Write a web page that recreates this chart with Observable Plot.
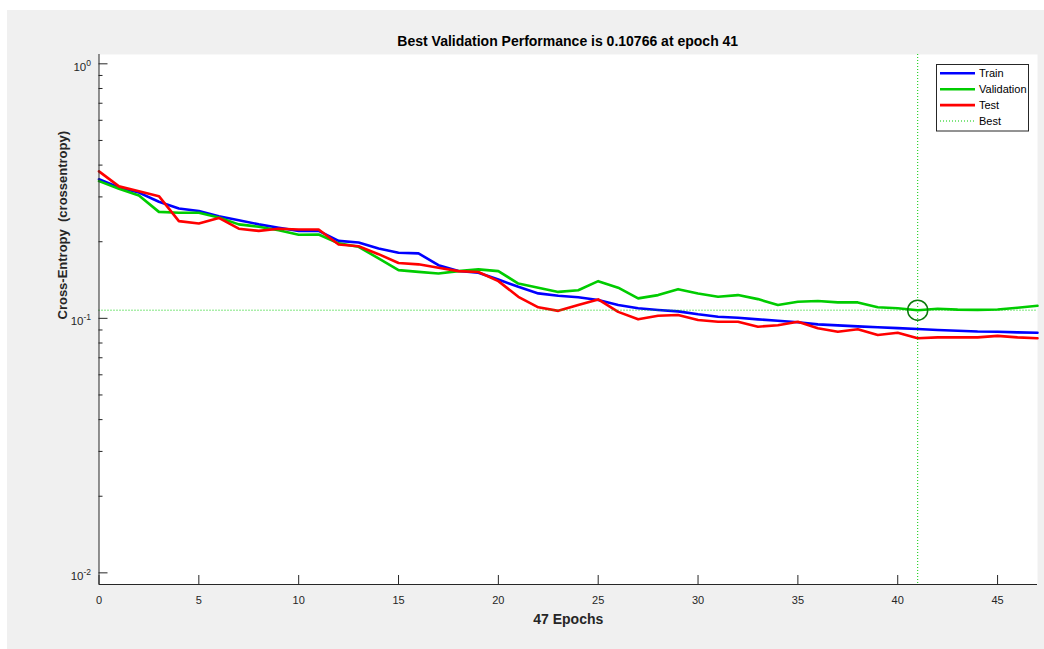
<!DOCTYPE html>
<html>
<head>
<meta charset="utf-8">
<script src="https://cdn.jsdelivr.net/npm/d3@7"></script>
<script src="https://cdn.jsdelivr.net/npm/@observablehq/plot@0.6"></script>
<style>
  body { margin: 0; background: #ffffff; font-family: Arial, "Liberation Sans", Helvetica, sans-serif; }
  #fig { position: absolute; left: 7px; top: 10px; width: 1037px; height: 639px; background: #f0f0f0; overflow: hidden; }
  #title { height: 44px; box-sizing: border-box; padding-top: 23px; padding-left: 91.5px; width: 1030px;
           text-align: center; font-size: 14px; line-height: 16px; font-weight: bold; color: #000; }
  #chart svg text { white-space: pre; }
</style>
</head>
<body>
<div id="fig">
  <div id="title"></div>
  <div id="chart"></div>
</div>
<script>
// ---- data ----
const epochs = [0,1,2,3,4,5,6,7,8,9,10,11,12,13,14,15,16,17,18,19,20,21,22,23,24,25,26,27,28,29,30,31,32,33,34,35,36,37,38,39,40,41,42,43,44,45,46,47];
const train = [0.352,0.327,0.312,0.287,0.270,0.264,0.252,0.243,0.234,0.227,0.2206,0.2206,0.2015,0.1987,0.188,0.181,0.180,0.1618,0.1535,0.151,0.142,0.133,0.1253,0.1227,0.121,0.118,0.1128,0.1095,0.1078,0.1065,0.1037,0.1015,0.1005,0.0991,0.0979,0.0965,0.0947,0.0938,0.0930,0.0922,0.0915,0.0908,0.0900,0.0894,0.0888,0.0886,0.0881,0.0878];
const validation = [0.346,0.323,0.304,0.262,0.260,0.260,0.249,0.234,0.229,0.222,0.213,0.2135,0.197,0.191,0.172,0.1547,0.1523,0.150,0.1533,0.1557,0.1533,0.137,0.132,0.127,0.129,0.140,0.132,0.1198,0.1234,0.1302,0.1253,0.1215,0.1234,0.119,0.1128,0.1162,0.117,0.1155,0.1155,0.1105,0.1095,0.10766,0.109,0.1082,0.1080,0.1083,0.110,0.112];
const test = [0.378,0.330,0.316,0.302,0.241,0.236,0.248,0.225,0.2206,0.225,0.2234,0.2234,0.195,0.192,0.1787,0.165,0.163,0.158,0.1533,0.152,0.140,0.1215,0.1105,0.107,0.1128,0.1187,0.106,0.0991,0.1024,0.103,0.0985,0.097,0.097,0.0927,0.094,0.097,0.0914,0.0886,0.0906,0.086,0.0878,0.0835,0.0842,0.0842,0.0842,0.0853,0.0842,0.0835];
const bestEpoch = 41;
const bestValue = 0.10766;
const xTicks = [0,5,10,15,20,25,30,35,40,45];
const yMajor = [0.01, 0.1, 1];
const yMinor = [0.02,0.03,0.04,0.05,0.06,0.07,0.08,0.09,0.2,0.3,0.4,0.5,0.6,0.7,0.8,0.9];
const titleText = "Best Validation Performance is 0.10766 at epoch 41";
const xLabel = "47 Epochs";
const yLabel = "Cross-Entropy  (crossentropy)";
const legendLabels = ["Train", "Validation", "Test", "Best"];
const seriesColors = ["#0000ff", "#00cc00", "#ff0000", "#00cc00"];

// ---- layout ----
const W = 1037, H = 595;
const mL = 91.5, mR = 7, mT = 0, mB = 65;
const plotW = W - mL - mR, plotH = H - mT - mB;
const axisColor = "#262626";

document.getElementById("title").textContent = titleText;

const rows = (arr) => epochs.map((e, i) => ({epoch: e, value: arr[i]}));

const chart = Plot.plot({
  width: W, height: H,
  marginLeft: mL, marginRight: mR, marginTop: mT, marginBottom: mB,
  style: {background: "transparent", fontFamily: "Arial, 'Liberation Sans', Helvetica, sans-serif", fontSize: "11px", color: axisColor, overflow: "visible"},
  x: {domain: [0, 47], axis: null},
  y: {type: "log", domain: [0.009, 1.088], axis: null},
  marks: [
    Plot.frame({fill: "white", stroke: null}),
    Plot.line(rows(train), {x: "epoch", y: "value", stroke: seriesColors[0], strokeWidth: 2.6}),
    Plot.line(rows(validation), {x: "epoch", y: "value", stroke: seriesColors[1], strokeWidth: 2.6}),
    Plot.line(rows(test), {x: "epoch", y: "value", stroke: seriesColors[2], strokeWidth: 2.6}),
    Plot.ruleY([bestValue], {stroke: seriesColors[3], strokeWidth: 1, strokeDasharray: "1,2"}),
    Plot.ruleX([bestEpoch], {stroke: seriesColors[3], strokeWidth: 1, strokeDasharray: "1,2"}),
    Plot.dot([{epoch: bestEpoch, value: bestValue}], {x: "epoch", y: "value", r: 10, fill: "none", stroke: "#0a7a0a", strokeWidth: 1.5}),
    // axis lines
    Plot.ruleX([0], {stroke: axisColor, strokeWidth: 1}),
    Plot.ruleY([0.009], {stroke: axisColor, strokeWidth: 1}),
    // inward ticks
    Plot.tickX(xTicks, {x: d => d, stroke: axisColor, insetTop: plotH - 9}),
    Plot.tickY(yMajor, {y: d => d, stroke: axisColor, insetRight: plotW - 9}),
    Plot.tickY(yMinor, {y: d => d, stroke: axisColor, insetRight: plotW - 4}),
    // tick labels
    Plot.text(xTicks, {x: d => d, frameAnchor: "bottom", dy: 16, lineAnchor: "middle", text: d => String(d), fontSize: 11, fill: axisColor}),
    Plot.text(yMajor, {y: d => d, frameAnchor: "left", dx: -8, dy: 3, textAnchor: "end", lineAnchor: "middle", text: d => "10^" + Math.round(Math.log10(d)), fontSize: 11.5, fill: axisColor}),
    // axis labels
    Plot.text([xLabel], {frameAnchor: "bottom", dy: 35, lineAnchor: "middle", text: d => d, fontSize: 14, fontWeight: "bold", fill: axisColor}),
    Plot.text([yLabel], {frameAnchor: "left", dx: -36.5, rotate: -90, lineAnchor: "middle", text: d => d, fontSize: 13, fontWeight: "bold", fill: axisColor})
  ]
});

// superscript exponents on log tick labels
d3.select(chart).selectAll("text").each(function() {
  const t = this.textContent;
  const m = /^10\^(-?\d+)$/.exec(t);
  if (m) {
    const sel = d3.select(this);
    sel.text("10");
    sel.append("tspan").attr("dy", "-5").attr("font-size", "8.5px").text(m[1]);
  }
});

document.getElementById("chart").appendChild(chart);

// ---- legend ----
const leg = d3.select("#fig").append("svg")
  .attr("width", 96).attr("height", 72)
  .style("position", "absolute").style("left", "928px").style("top", "53px");
leg.append("rect").attr("x", 1.5).attr("y", 1.5).attr("width", 92).attr("height", 66.5)
  .attr("fill", "white").attr("stroke", axisColor).attr("stroke-width", 1);
legendLabels.forEach((lab, i) => {
  const cy = 10.3 + i * 15.9;
  const ln = leg.append("line").attr("x1", 5).attr("x2", 40).attr("y1", cy).attr("y2", cy)
    .attr("stroke", seriesColors[i]);
  if (lab === "Best") ln.attr("stroke-width", 1).attr("stroke-dasharray", "1,2");
  else ln.attr("stroke-width", 2.6);
  leg.append("text").attr("x", 44).attr("y", cy).attr("dy", "0.35em")
    .attr("font-size", "11px").attr("fill", "#000")
    .attr("font-family", "Arial, 'Liberation Sans', Helvetica, sans-serif").text(lab);
});
</script>
</body>
</html>
